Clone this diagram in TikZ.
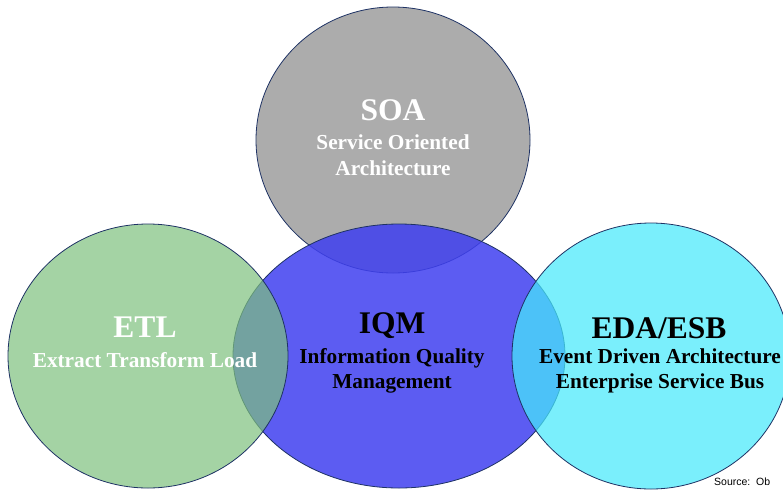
\documentclass[tikz,border=0pt]{standalone}
\usepackage{fontspec}
\setmainfont{Liberation Serif}
\newfontfamily\srcfont{Liberation Sans}
\usetikzlibrary{shapes.geometric}
\definecolor{soagray}{RGB}{168,168,168}
\definecolor{etlgreen}{RGB}{126,193,126}
\definecolor{iqmblue}{RGB}{64,64,240}
\definecolor{edacyan}{RGB}{70,233,251}
\definecolor{rimblue}{RGB}{30,50,100}
\tikzset{
  venn/.style={ellipse, draw=rimblue, line width=0.8pt, inner sep=0pt},
  bigtitle/.style={font=\bfseries\fontsize{31.5}{34}\selectfont, inner sep=0pt},
  subtitle/.style={font=\bfseries\fontsize{21.3}{25.5}\selectfont, align=center, inner sep=0pt}
}
\begin{document}
\begin{tikzpicture}[x=1pt,y=-1pt]
\useasboundingbox (0,0) rectangle (783,490);
\clip (0,0) rectangle (783,490);
\node[venn, fill=soagray, fill opacity=0.95, minimum width=274pt, minimum height=266pt] (soa) at (393,140) {};
\node[venn, fill=iqmblue, fill opacity=0.85, minimum width=332pt, minimum height=264pt] (iqm) at (399,356) {};
\node[venn, fill=etlgreen, fill opacity=0.7, minimum width=280pt, minimum height=264pt] (etl) at (148,356) {};
\node[venn, fill=edacyan, fill opacity=0.72, minimum width=278pt, minimum height=266pt] (eda) at (651,356) {};
% texts
\node[bigtitle, text=white] (soat) at (393,110) {SOA};
\node[subtitle, text=white] (soas) at (393,155) {Service Oriented\\Architecture};
\node[bigtitle, text=white] (etlt) at (145,327) {ETL};
\node[subtitle, text=white] (etls) at (145,360) {Extract Transform Load};
\node[bigtitle] (iqmt) at (392,326) {IQM};
\node[subtitle] (iqms) at (392,371) {Information Quality\\Management};
\node[bigtitle] (edat) at (659,328) {EDA/ESB};
\node[subtitle] (edas) at (660,371) {Event Driven Architecture\\Enterprise Service Bus};
\node[font=\srcfont\fontsize{10.5}{12}\selectfont, anchor=west, inner sep=0pt] (src) at (714,482) {Source:\ \ Ob};
\end{tikzpicture}
\end{document}
